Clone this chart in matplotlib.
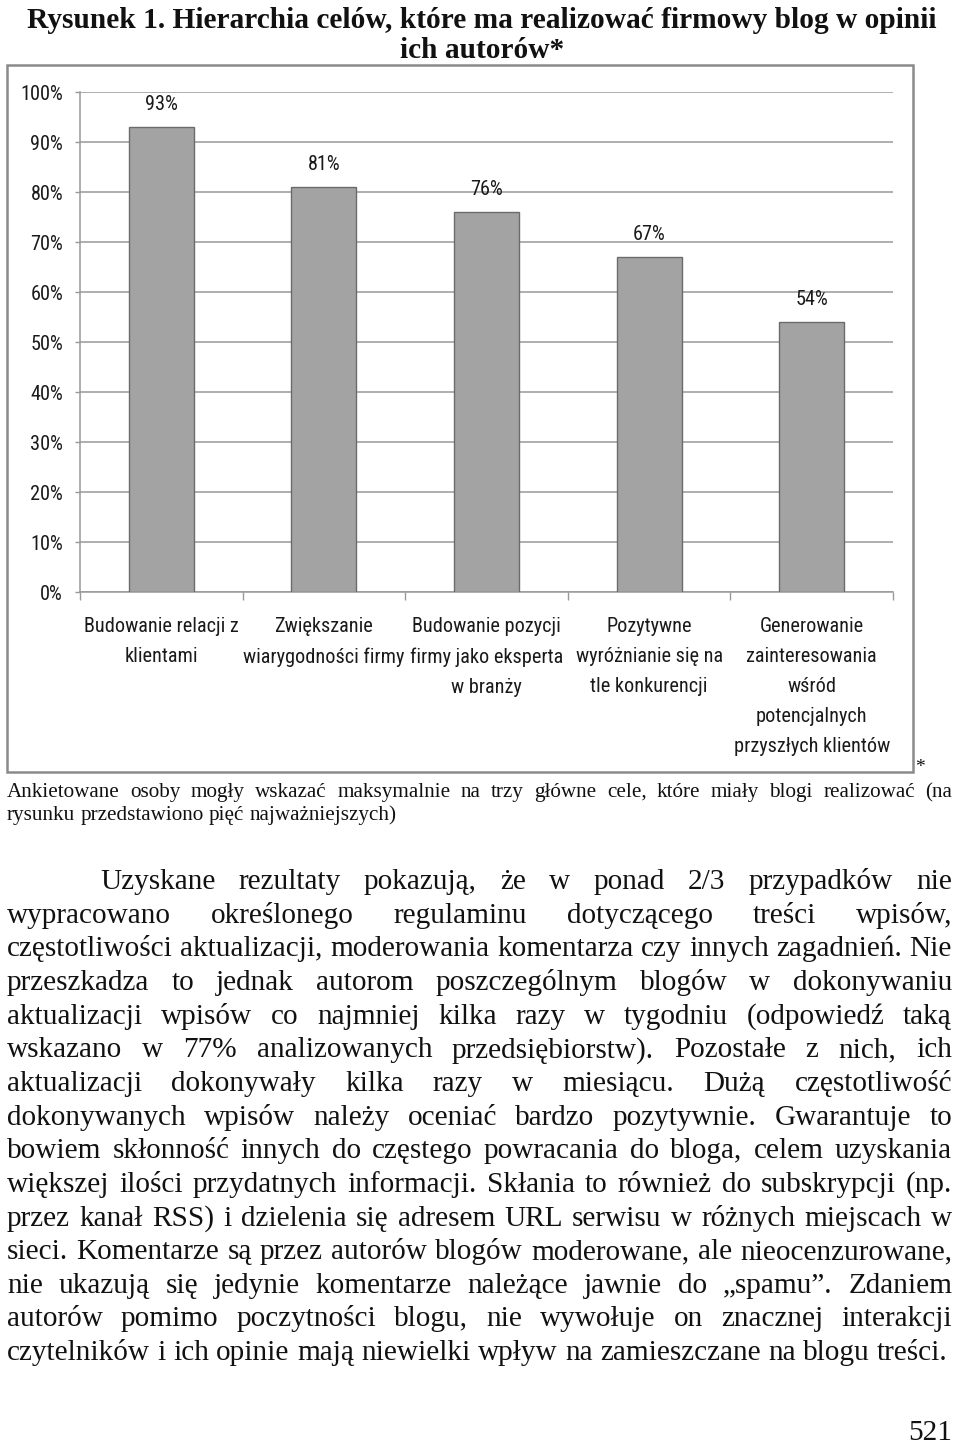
import os
import numpy as np
import matplotlib
matplotlib.use("Agg")
import matplotlib.pyplot as plt
from matplotlib.patches import Rectangle
from matplotlib.ticker import NullFormatter
from matplotlib import font_manager as fm

# ---------------- data ----------------
categories = [
    "Budowanie relacji z\nklientami",
    "Zwiększanie\nwiarygodności firmy",
    "Budowanie pozycji\nfirmy jako eksperta\nw branży",
    "Pozytywne\nwyróżnianie się na\ntle konkurencji",
    "Generowanie\nzainteresowania\nwśród\npotencjalnych\nprzyszłych klientów",
]
values = [93, 81, 76, 67, 54]
value_labels = ["93%", "81%", "76%", "67%", "54%"]
y_ticks = [0, 10, 20, 30, 40, 50, 60, 70, 80, 90, 100]
y_tick_labels = ["0%", "10%", "20%", "30%", "40%", "50%", "60%", "70%", "80%", "90%", "100%"]

title_lines = [
    "Rysunek 1. Hierarchia celów, które ma realizować firmowy blog w opinii",
    "ich autorów*",
]
footnote_lines = [
    "Ankietowane osoby mogły wskazać maksymalnie na trzy główne cele, które miały blogi realizować (na",
    "rysunku przedstawiono pięć najważniejszych)",
]
body_lines = [
    "Uzyskane rezultaty pokazują, że w ponad 2/3 przypadków nie",
    "wypracowano określonego regulaminu dotyczącego treści wpisów,",
    "częstotliwości aktualizacji, moderowania komentarza czy innych zagadnień. Nie",
    "przeszkadza to jednak autorom poszczególnym blogów w dokonywaniu",
    "aktualizacji wpisów co najmniej kilka razy w tygodniu (odpowiedź taką",
    "wskazano w 77% analizowanych przedsiębiorstw). Pozostałe z nich, ich",
    "aktualizacji dokonywały kilka razy w miesiącu. Dużą częstotliwość",
    "dokonywanych wpisów należy oceniać bardzo pozytywnie. Gwarantuje to",
    "bowiem skłonność innych do częstego powracania do bloga, celem uzyskania",
    "większej ilości przydatnych informacji. Skłania to również do subskrypcji (np.",
    "przez kanał RSS) i dzielenia się adresem URL serwisu w różnych miejscach w",
    "sieci. Komentarze są przez autorów blogów moderowane, ale nieocenzurowane,",
    "nie ukazują się jedynie komentarze należące jawnie do „spamu”. Zdaniem",
    "autorów pomimo poczytności blogu, nie wywołuje on znacznej interakcji",
    "czytelników i ich opinie mają niewielki wpływ na zamieszczane na blogu treści.",
]
page_number = "521"

# ---------------- setup ----------------
W, H, DPI = 960, 1445, 100
fig = plt.figure(figsize=(W / DPI, H / DPI), dpi=DPI, facecolor="white")
renderer = fig.canvas.get_renderer()
TXT = "#111111"


def fx(x):
    return x / W


def fy(y):
    return 1 - y / H


def find_file(name, weight="normal"):
    try:
        return fm.findfont(fm.FontProperties(family=name, weight=weight),
                           fallback_to_default=False)
    except Exception:
        return None


SERIF = "Liberation Serif" if find_file("Liberation Serif") else "DejaVu Serif"


def pick_sans():
    cands = [("Liberation Sans Narrow", "normal"), ("Open Sans Condensed", "normal"),
             ("Open Sans Condensed", "light"), ("Roboto Condensed", "normal"),
             ("Lato", "normal"), ("Liberation Sans", "normal")]
    for fam, wt in cands:
        f = find_file(fam, wt)
        if f is None:
            continue
        if "bold" in os.path.basename(f).lower():
            continue
        return fam, wt
    return "DejaVu Sans", "normal"


SANS, SANS_W = pick_sans()


def text_width(s, size, family, weight="normal"):
    t = fig.text(0, 0, s, fontsize=size, family=family, weight=weight)
    w = t.get_window_extent(renderer).width
    t.remove()
    return w


def space_width(size, family, weight="normal"):
    return text_width("n n", size, family, weight) - text_width("nn", size, family, weight)


def fit_size(specs, family, weight="normal", base=20.0):
    sp = space_width(base, family, weight)
    ratios = []
    for line, avail in specs:
        ww = [text_width(w, base, family, weight) for w in line.split()]
        natural = sum(ww) + sp * (len(ww) - 1)
        ratios.append(avail / natural)
    return base * min(ratios)


def draw_line(line, x0, x1, y, size, family, weight="normal", justify=True):
    words = line.split()
    texts, widths = [], []
    for w in words:
        t = fig.text(fx(x0), fy(y), w, fontsize=size, family=family, weight=weight,
                     ha="left", va="baseline", color=TXT)
        texts.append(t)
        widths.append(t.get_window_extent(renderer).width)
    if justify and len(words) > 1:
        gap = (x1 - x0 - sum(widths)) / (len(words) - 1)
    else:
        gap = space_width(size, family, weight)
    x = x0
    for t, w in zip(texts, widths):
        t.set_x(fx(x))
        x += w + gap


# ---------------- title ----------------
title_size = fit_size([(title_lines[0], 908)], SERIF, "bold")
for line, yb in zip(title_lines, [28, 58]):
    fig.text(fx(482), fy(yb), line, fontsize=title_size, family=SERIF, weight="bold",
             ha="center", va="baseline", color=TXT)

# ---------------- chart ----------------
GRAY_LINE = "#999999"
box = Rectangle((fx(7), fy(772)), (913 - 7) / W, (772 - 65) / H, transform=fig.transFigure,
                fill=False, edgecolor="#8a8a8a", linewidth=1.8)
fig.add_artist(box)

chart_size = fit_size([("Budowanie relacji z", 154)], SANS, SANS_W)
size_px = chart_size * DPI / 72.0


def pitch(ls):
    t1 = fig.text(0, 0, "Ag\nAg", fontsize=chart_size, family=SANS, weight=SANS_W, linespacing=ls)
    t0 = fig.text(0, 0, "Ag", fontsize=chart_size, family=SANS, weight=SANS_W)
    p = t1.get_window_extent(renderer).height - t0.get_window_extent(renderer).height
    t1.remove(); t0.remove()
    return p


p1, p2 = pitch(1.0), pitch(2.0)
ls = (30.0 - (p1 - (p2 - p1))) / (p2 - p1)

ax = fig.add_axes([fx(80), fy(592), (893 - 80) / W, (592 - 92) / H])
x = np.arange(len(categories))
ax.bar(x, values, width=0.4, color="#a3a3a3", edgecolor="#6b6b6b", linewidth=1.0, zorder=3)
for xi, v, lab in zip(x, values, value_labels):
    ax.annotate(lab, (xi, v), xytext=(0, 12.2), textcoords="offset points", ha="center",
                va="baseline", fontsize=chart_size, family=SANS, fontweight=SANS_W,
                color="#1a1a1a")

ax.set_xlim(-0.5, len(categories) - 0.5)
ax.set_ylim(0, 100)
ax.set_yticks(y_ticks, labels=y_tick_labels)
ax.yaxis.grid(True, color=GRAY_LINE, linewidth=1.1)
ax.set_axisbelow(True)
ax.tick_params(axis="y", length=3.6, width=1, color=GRAY_LINE, pad=8.6,
               labelsize=chart_size, labelcolor="#1a1a1a")
for lbl in ax.get_yticklabels():
    lbl.set_family(SANS)
    lbl.set_weight(SANS_W)

ax.set_xticks(np.arange(-0.5, len(categories), 1.0))
ax.xaxis.set_major_formatter(NullFormatter())
ax.tick_params(axis="x", which="major", length=5.8, width=1, color=GRAY_LINE)
ax.set_xticks(x, labels=categories, minor=True)
pad_px = 632 - 592 - 0.76 * size_px
ax.tick_params(axis="x", which="minor", length=0, pad=pad_px * 72 / DPI,
               labelsize=chart_size, labelcolor="#1a1a1a")
for lbl in ax.get_xticklabels(minor=True):
    lbl.set_family(SANS)
    lbl.set_weight(SANS_W)
    lbl.set_linespacing(ls)

for s in ["top", "right"]:
    ax.spines[s].set_visible(False)
for s in ["left", "bottom"]:
    ax.spines[s].set_color(GRAY_LINE)
    ax.spines[s].set_linewidth(1.1)

fig.text(fx(920), fy(772), "*", fontsize=14, family=SERIF, ha="center", va="baseline", color=TXT)

# ---------------- footnote ----------------
foot_size = fit_size([(footnote_lines[0], 945), (footnote_lines[1], 388)], SERIF)
draw_line(footnote_lines[0], 7, 952, 797, foot_size, SERIF, justify=True)
draw_line(footnote_lines[1], 7, 952, 820, foot_size, SERIF, justify=False)

# ---------------- body ----------------
specs = [(body_lines[0], 952 - 100)] + [(l, 945) for l in body_lines[1:]]
body_size = fit_size(specs, SERIF)
for i, line in enumerate(body_lines):
    yb = 889 + 33.65 * i
    x0 = 100 if i == 0 else 7
    last = i == len(body_lines) - 1
    draw_line(line, x0, 952, yb, body_size, SERIF, justify=not last)

fig.text(fx(952), fy(1440), page_number, fontsize=body_size, family=SERIF,
         ha="right", va="baseline", color=TXT)

fig.savefig("out.png", dpi=DPI, facecolor="white")
